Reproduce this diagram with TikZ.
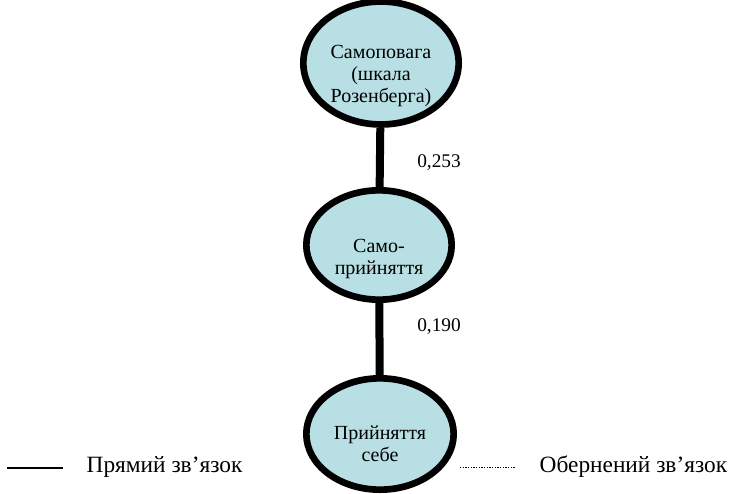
\documentclass[tikz,border=0pt]{standalone}
\usepackage{fontspec}
\setmainfont{Liberation Serif}
\usetikzlibrary{calc}
\usetikzlibrary{shapes.geometric}
\definecolor{ovalfill}{RGB}{184,223,228}
% strut that pushes the first line of an oval down
\newcommand\droptext[1]{\rule{0pt}{#1}}

\begin{document}
\begin{tikzpicture}[x=0.75pt,y=-0.75pt,
    oval/.style={ellipse,draw=black,line width=5pt,fill=ovalfill,
      align=center,inner sep=0pt,font=\fontsize{15}{16.5}\selectfont},
    link/.style={line width=6pt},
    coef/.style={font=\fontsize{14.5}{16.5}\selectfont},
    legend/.style={font=\fontsize{17.5}{20}\selectfont,anchor=west}]
  % Boundary
  \path[use as bounding box] (0,0) rectangle (734,493);
  % Ovals
  \node[oval,minimum width=116.5pt,minimum height=89.5pt] (selfesteem) at (381,63)
    {\droptext{29pt}Самоповага\\(шкала\\Розенберга)};
  \node[oval,minimum width=109pt,minimum height=82pt] (selfaccept) at (379,245)
    {\droptext{31pt}Само-\\прийняття};
  \node[oval,minimum width=110.5pt,minimum height=83.5pt] (acceptself) at (380,434)
    {\droptext{25pt}Прийняття\\себе};
  % Links
  \draw[link] (selfesteem) -- (selfaccept);
  \draw[link] (selfaccept) -- (acceptself);
  \node[coef] (r1) at (439,163) {0,253};
  \node[coef] (r2) at (439,327) {0,190};
  % Legend
  \coordinate (directa) at (7,468);
  \coordinate (directb) at (63,468);
  \draw[line width=1pt] (directa) -- (directb);
  \node[legend] (direct) at (82,467) {Прямий зв’язок};
  \coordinate (inversea) at (460,467);
  \coordinate (inverseb) at (516,467);
  \draw[line width=0.6pt,dash pattern=on 1pt off 1pt] (inversea) -- (inverseb);
  \node[legend] (inverse) at (535,467) {Обернений зв’язок};
\end{tikzpicture}
\end{document}
